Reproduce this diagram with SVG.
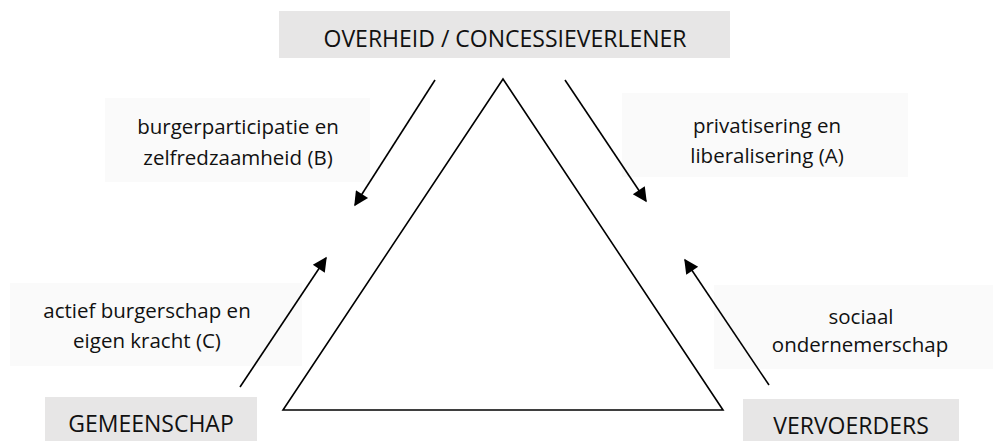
<svg xmlns="http://www.w3.org/2000/svg" width="994" height="441" viewBox="0 0 994 441">
<defs>
<style>
.actor{fill:#e7e6e6;}
.lbl{fill:#fafafa;}
text{font-family:"Open Sans","Liberation Sans",sans-serif;fill:#111;text-anchor:middle;}
.t1{font-size:23px;}
.t2{font-size:20.5px;}
.conn line{stroke:#000;stroke-width:1.6;marker-end:url(#ah);}
</style>
<marker id="ah" viewBox="0 0 10 10" refX="9" refY="5" markerWidth="11" markerHeight="9" markerUnits="strokeWidth" orient="auto">
<path d="M0,0 L10,5 L0,10 z" fill="#000"/>
</marker>
</defs>
<rect width="994" height="441" fill="#fff"/>
<g id="triangle">
<polygon points="503,79 283,410 723,410" fill="none" stroke="#000" stroke-width="1.6"/>
</g>
<g id="overheid">
<rect class="actor" x="279" y="11" width="451" height="47"/>
<text class="t1" x="505" y="47">OVERHEID / CONCESSIEVERLENER</text>
</g>
<g id="gemeenschap">
<rect class="actor" x="45" y="397" width="212" height="44"/>
<text class="t1" x="151" y="432">GEMEENSCHAP</text>
</g>
<g id="vervoerders">
<rect class="actor" x="743" y="399" width="216" height="42"/>
<text class="t1" x="851" y="434">VERVOERDERS</text>
</g>
<g id="label-b">
<rect class="lbl" x="105" y="98" width="265" height="84"/>
<text class="t2" x="238" y="134">burgerparticipatie en</text>
<text class="t2" x="238" y="165">zelfredzaamheid (B)</text>
</g>
<g id="label-a">
<rect class="lbl" x="622" y="93" width="286" height="84"/>
<text class="t2" x="767" y="133">privatisering en</text>
<text class="t2" x="767" y="163">liberalisering (A)</text>
</g>
<g id="label-c">
<rect class="lbl" x="10" y="283" width="292" height="83"/>
<text class="t2" x="147" y="318">actief burgerschap en</text>
<text class="t2" x="147" y="348">eigen kracht (C)</text>
</g>
<g id="label-d">
<rect class="lbl" x="714" y="285" width="279" height="84"/>
<text class="t2" x="861" y="324">sociaal</text>
<text class="t2" x="860" y="352">ondernemerschap</text>
</g>
<g id="connectors" class="conn">
<line x1="435" y1="80" x2="355" y2="205"/>
<line x1="565" y1="80" x2="646" y2="201"/>
<line x1="240" y1="387" x2="326" y2="258"/>
<line x1="769" y1="385" x2="685" y2="260"/>
</g>
</svg>
